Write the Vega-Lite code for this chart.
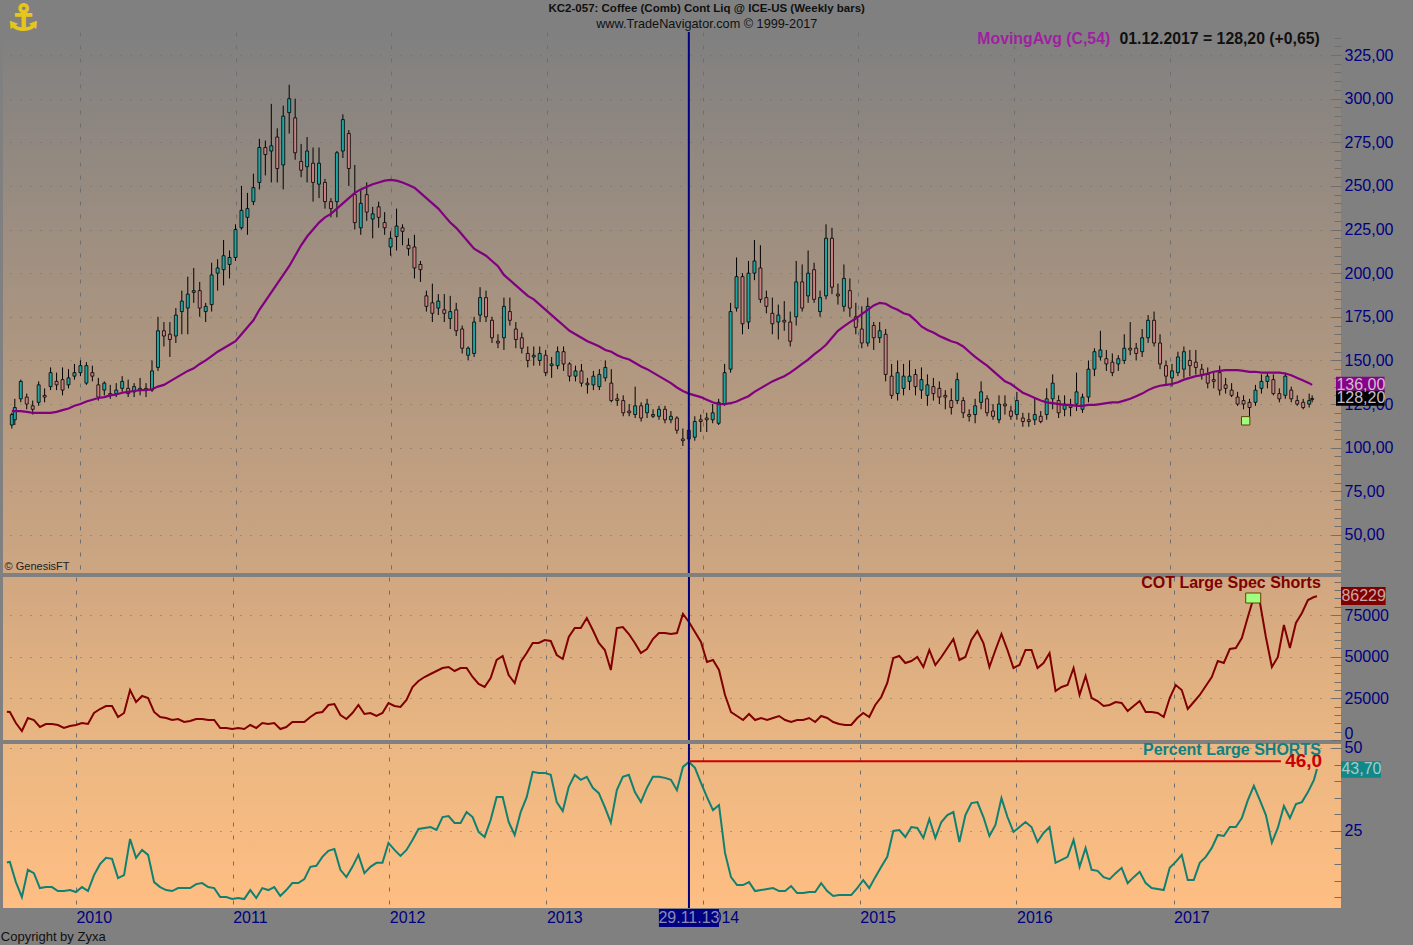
{
"$schema":"https://vega.github.io/schema/vega-lite/v6.json",
"background":"#808080",
"padding":{"left":0,"top":1,"right":27,"bottom":1},
"spacing":4,
"bounds":"flush",
"config":{"view":{"stroke":null},"font":"Liberation Sans","axis":{"domain":false,"title":null,"labelOverlap":false,"labelFont":"Liberation Sans","labelFontSize":16,"labelColor":"#000080","tickColor":"#6e6e6e"}},
"datasets":{"bars":[
{"date":"2009-07-24","open":113,"high":120,"low":111,"close":119,"ma":121,"cot":17000,"pct":15.5},
{"date":"2009-07-31","open":116,"high":128,"low":113,"close":123,"ma":121,"cot":16800,"pct":15.7},
{"date":"2009-08-14","open":128,"high":139,"low":126,"close":138,"ma":121,"cot":10200,"pct":9.6},
{"date":"2009-08-28","open":129,"high":131,"low":122,"close":125,"ma":120.5,"cot":5400,"pct":5.1},
{"date":"2009-09-11","open":124,"high":127,"low":119,"close":122,"ma":120,"cot":13200,"pct":13.3},
{"date":"2009-09-25","open":126,"high":138,"low":124,"close":136,"ma":120,"cot":12000,"pct":12.3},
{"date":"2009-10-09","open":130,"high":134,"low":126,"close":129,"ma":120,"cot":7800,"pct":7.8},
{"date":"2009-10-23","open":135,"high":146,"low":133,"close":143,"ma":120,"cot":9600,"pct":8.1},
{"date":"2009-11-06","open":138,"high":143,"low":133,"close":136,"ma":120.5,"cot":9600,"pct":8.1},
{"date":"2009-11-20","open":139,"high":146,"low":130,"close":133,"ma":121.5,"cot":9000,"pct":6.9},
{"date":"2009-12-04","open":136,"high":145,"low":134,"close":140,"ma":122.5,"cot":7200,"pct":6.9},
{"date":"2009-12-18","open":141,"high":148,"low":139,"close":143,"ma":124,"cot":8400,"pct":7.2},
{"date":"2010-01-01","open":143,"high":150,"low":141,"close":147,"ma":125,"cot":9000,"pct":6.6},
{"date":"2010-01-15","open":137,"high":149,"low":136,"close":147,"ma":126.5,"cot":10200,"pct":8.1},
{"date":"2010-01-29","open":143,"high":147,"low":138,"close":141,"ma":127.5,"cot":9600,"pct":6.9},
{"date":"2010-02-12","open":136,"high":140,"low":127,"close":129,"ma":128.5,"cot":16200,"pct":11.7},
{"date":"2010-02-26","open":133,"high":138,"low":130,"close":137,"ma":129,"cot":18600,"pct":15},
{"date":"2010-03-12","open":131,"high":136,"low":128,"close":130,"ma":130,"cot":20400,"pct":16.9},
{"date":"2010-03-26","open":131,"high":137,"low":129,"close":133,"ma":130.5,"cot":20400,"pct":16.6},
{"date":"2010-04-09","open":134,"high":141,"low":132,"close":138,"ma":131.5,"cot":13800,"pct":10.8},
{"date":"2010-04-23","open":134,"high":139,"low":129,"close":131,"ma":132,"cot":16200,"pct":11.7},
{"date":"2010-05-07","open":132,"high":137,"low":129,"close":135,"ma":132.5,"cot":30000,"pct":22.6},
{"date":"2010-05-21","open":134,"high":140,"low":130,"close":133,"ma":133,"cot":22800,"pct":16.9},
{"date":"2010-06-04","open":134,"high":137,"low":129,"close":133,"ma":133,"cot":26400,"pct":19.3},
{"date":"2010-06-18","open":133,"high":150,"low":132,"close":144,"ma":133.5,"cot":25200,"pct":17.8},
{"date":"2010-07-02","open":146,"high":175,"low":144,"close":167,"ma":135,"cot":16800,"pct":9.6},
{"date":"2010-07-16","open":167,"high":172,"low":158,"close":164,"ma":136,"cot":13800,"pct":8.1},
{"date":"2010-07-30","open":165,"high":172,"low":152,"close":162,"ma":138,"cot":13200,"pct":7.2},
{"date":"2010-08-13","open":164,"high":180,"low":160,"close":176,"ma":140,"cot":12000,"pct":6.9},
{"date":"2010-08-27","open":178,"high":190,"low":165,"close":184,"ma":142,"cot":12600,"pct":7.8},
{"date":"2010-09-10","open":180,"high":198,"low":165,"close":188,"ma":144,"cot":10800,"pct":7.8},
{"date":"2010-09-24","open":189,"high":203,"low":183,"close":190,"ma":145.5,"cot":11400,"pct":7.8},
{"date":"2010-10-08","open":190,"high":195,"low":175,"close":180,"ma":148,"cot":12600,"pct":9},
{"date":"2010-10-22","open":178,"high":183,"low":172,"close":181,"ma":150,"cot":12600,"pct":9.3},
{"date":"2010-11-05","open":182,"high":206,"low":178,"close":199,"ma":152.5,"cot":12000,"pct":8.1},
{"date":"2010-11-19","open":200,"high":208,"low":190,"close":203,"ma":155,"cot":12000,"pct":7.8},
{"date":"2010-12-03","open":202,"high":219,"low":193,"close":210,"ma":157,"cot":7200,"pct":5.1},
{"date":"2010-12-17","open":205,"high":213,"low":197,"close":209,"ma":159,"cot":7200,"pct":5.1},
{"date":"2010-12-31","open":209,"high":228,"low":207,"close":225,"ma":161,"cot":6600,"pct":4.5},
{"date":"2011-01-14","open":226,"high":250,"low":225,"close":236,"ma":165,"cot":7200,"pct":4.8},
{"date":"2011-01-28","open":232,"high":246,"low":222,"close":237,"ma":169,"cot":6600,"pct":4.5},
{"date":"2011-02-11","open":241,"high":257,"low":239,"close":249,"ma":173,"cot":9000,"pct":7.2},
{"date":"2011-02-25","open":252,"high":277,"low":248,"close":272,"ma":179,"cot":7200,"pct":4.8},
{"date":"2011-03-11","open":272,"high":276,"low":256,"close":268,"ma":184,"cot":10200,"pct":7.8},
{"date":"2011-03-25","open":270,"high":297,"low":252,"close":273,"ma":189,"cot":9600,"pct":7.2},
{"date":"2011-04-08","open":278,"high":283,"low":252,"close":260,"ma":194,"cot":10200,"pct":8.1},
{"date":"2011-04-22","open":262,"high":296,"low":248,"close":290,"ma":199,"cot":6600,"pct":5.4},
{"date":"2011-05-06","open":292,"high":308,"low":280,"close":300,"ma":204,"cot":7800,"pct":7.2},
{"date":"2011-05-20","open":289,"high":300,"low":265,"close":269,"ma":210,"cot":10800,"pct":9.3},
{"date":"2011-06-03","open":264,"high":274,"low":255,"close":259,"ma":216,"cot":10800,"pct":9.3},
{"date":"2011-06-17","open":261,"high":278,"low":252,"close":270,"ma":221,"cot":10800,"pct":10.5},
{"date":"2011-07-01","open":263,"high":272,"low":241,"close":252,"ma":225,"cot":13800,"pct":14.2},
{"date":"2011-07-15","open":251,"high":272,"low":243,"close":263,"ma":229,"cot":16200,"pct":14.5},
{"date":"2011-07-29","open":252,"high":254,"low":237,"close":241,"ma":232,"cot":16800,"pct":17.2},
{"date":"2011-08-12","open":241,"high":243,"low":232,"close":237,"ma":234,"cot":21000,"pct":19},
{"date":"2011-08-26","open":241,"high":270,"low":232,"close":269,"ma":237,"cot":21600,"pct":19.6},
{"date":"2011-09-09","open":270,"high":291,"low":266,"close":288,"ma":240,"cot":15000,"pct":13.3},
{"date":"2011-09-23","open":280,"high":282,"low":250,"close":260,"ma":243,"cot":12600,"pct":11.1},
{"date":"2011-10-07","open":245,"high":262,"low":225,"close":229,"ma":246,"cot":16200,"pct":14.2},
{"date":"2011-10-21","open":226,"high":248,"low":222,"close":240,"ma":248,"cot":21000,"pct":17.8},
{"date":"2011-11-04","open":245,"high":252,"low":230,"close":235,"ma":249.5,"cot":15600,"pct":12.3},
{"date":"2011-11-18","open":231,"high":238,"low":220,"close":234,"ma":251,"cot":16200,"pct":14.2},
{"date":"2011-12-02","open":238,"high":241,"low":226,"close":232,"ma":252,"cot":14400,"pct":15.4},
{"date":"2011-12-16","open":229,"high":235,"low":222,"close":226,"ma":253,"cot":16200,"pct":15.4},
{"date":"2011-12-30","open":215,"high":224,"low":210,"close":220,"ma":253.5,"cot":22200,"pct":21.4},
{"date":"2012-01-13","open":221,"high":237,"low":213,"close":227,"ma":253,"cot":20400,"pct":19.3},
{"date":"2012-01-27","open":226,"high":228,"low":216,"close":224,"ma":252,"cot":19800,"pct":17.5},
{"date":"2012-02-10","open":216,"high":220,"low":210,"close":214,"ma":250.5,"cot":24000,"pct":19.3},
{"date":"2012-02-24","open":215,"high":222,"low":197,"close":203,"ma":249,"cot":31800,"pct":22.3},
{"date":"2012-03-09","open":205,"high":207,"low":195,"close":202,"ma":246,"cot":35400,"pct":25.6},
{"date":"2012-03-23","open":187,"high":190,"low":178,"close":181,"ma":243,"cot":37800,"pct":25.9},
{"date":"2012-04-06","open":183,"high":194,"low":172,"close":177,"ma":240,"cot":39600,"pct":26.2},
{"date":"2012-04-20","open":180,"high":188,"low":176,"close":184,"ma":237,"cot":41400,"pct":25.3},
{"date":"2012-05-04","open":179,"high":188,"low":172,"close":177,"ma":233,"cot":43200,"pct":29.2},
{"date":"2012-05-18","open":174,"high":187,"low":168,"close":178,"ma":229,"cot":43800,"pct":29.5},
{"date":"2012-06-01","open":179,"high":183,"low":164,"close":167,"ma":226,"cot":41400,"pct":27.4},
{"date":"2012-06-15","open":168,"high":170,"low":154,"close":157,"ma":222,"cot":43200,"pct":27.4},
{"date":"2012-06-29","open":153,"high":158,"low":150,"close":157,"ma":218,"cot":43200,"pct":30.7},
{"date":"2012-07-13","open":154,"high":175,"low":152,"close":172,"ma":214,"cot":37800,"pct":29.2},
{"date":"2012-07-27","open":176,"high":192,"low":172,"close":186,"ma":212,"cot":33600,"pct":24.7},
{"date":"2012-08-10","open":186,"high":190,"low":172,"close":175,"ma":210,"cot":31800,"pct":23.2},
{"date":"2012-08-24","open":173,"high":175,"low":160,"close":163,"ma":207,"cot":37200,"pct":28.3},
{"date":"2012-09-07","open":161,"high":165,"low":157,"close":160,"ma":204,"cot":48000,"pct":35.2},
{"date":"2012-09-21","open":163,"high":186,"low":156,"close":181,"ma":199,"cot":50400,"pct":35.2},
{"date":"2012-10-05","open":178,"high":186,"low":170,"close":173,"ma":196,"cot":39000,"pct":27.7},
{"date":"2012-10-19","open":168,"high":172,"low":157,"close":162,"ma":193,"cot":34200,"pct":23.8},
{"date":"2012-11-02","open":163,"high":166,"low":154,"close":157,"ma":190,"cot":46800,"pct":30.7},
{"date":"2012-11-16","open":154,"high":158,"low":146,"close":150,"ma":187,"cot":52200,"pct":35.2},
{"date":"2012-11-30","open":152,"high":158,"low":147,"close":153,"ma":185,"cot":58200,"pct":42.8},
{"date":"2012-12-14","open":150,"high":158,"low":147,"close":154,"ma":182,"cot":58200,"pct":42.5},
{"date":"2012-12-28","open":153,"high":156,"low":141,"close":143,"ma":179,"cot":60000,"pct":42.5},
{"date":"2013-01-11","open":147,"high":152,"low":140,"close":148,"ma":176,"cot":59400,"pct":41.9},
{"date":"2013-01-25","open":147,"high":158,"low":145,"close":155,"ma":173,"cot":51000,"pct":33.7},
{"date":"2013-02-08","open":155,"high":158,"low":144,"close":148,"ma":170,"cot":48600,"pct":31},
{"date":"2013-02-22","open":148,"high":149,"low":138,"close":141,"ma":167,"cot":61800,"pct":38.3},
{"date":"2013-03-08","open":141,"high":147,"low":138,"close":144,"ma":165,"cot":67200,"pct":41.9},
{"date":"2013-03-22","open":144,"high":148,"low":135,"close":137,"ma":163,"cot":67200,"pct":40.4},
{"date":"2013-04-05","open":136,"high":140,"low":131,"close":137,"ma":161,"cot":73200,"pct":41.3},
{"date":"2013-04-19","open":136,"high":144,"low":133,"close":141,"ma":159.5,"cot":66000,"pct":38},
{"date":"2013-05-03","open":135,"high":145,"low":133,"close":142,"ma":158,"cot":58200,"pct":36.4},
{"date":"2013-05-17","open":140,"high":150,"low":138,"close":146,"ma":156,"cot":54000,"pct":32.2},
{"date":"2013-05-31","open":137,"high":145,"low":126,"close":127,"ma":155,"cot":42000,"pct":27.5},
{"date":"2013-06-14","open":128,"high":131,"low":124,"close":127,"ma":153,"cot":67200,"pct":37.3},
{"date":"2013-06-28","open":127,"high":130,"low":118,"close":120,"ma":151.5,"cot":67800,"pct":41.3},
{"date":"2013-07-12","open":121,"high":125,"low":118,"close":120,"ma":150.5,"cot":63600,"pct":41.9},
{"date":"2013-07-26","open":119,"high":135,"low":117,"close":124,"ma":148.5,"cot":58200,"pct":36.7},
{"date":"2013-08-09","open":124,"high":126,"low":115,"close":117,"ma":146.5,"cot":52200,"pct":33.7},
{"date":"2013-08-23","open":120,"high":128,"low":117,"close":125,"ma":145,"cot":54600,"pct":38},
{"date":"2013-09-06","open":118,"high":122,"low":117,"close":119,"ma":143,"cot":60600,"pct":41.3},
{"date":"2013-09-20","open":118,"high":124,"low":116,"close":122,"ma":141,"cot":64200,"pct":41.3},
{"date":"2013-10-04","open":122,"high":124,"low":114,"close":116,"ma":139,"cot":64200,"pct":41},
{"date":"2013-10-18","open":116,"high":121,"low":114,"close":118,"ma":137,"cot":63600,"pct":40.4},
{"date":"2013-11-01","open":117,"high":118,"low":108,"close":110,"ma":134.5,"cot":64200,"pct":37.3},
{"date":"2013-11-15","open":105,"high":111,"low":101,"close":104,"ma":132.5,"cot":75600,"pct":44.3},
{"date":"2013-11-29","open":105,"high":115,"low":103,"close":110,"ma":131,"cot":70800,"pct":45.8},
{"date":"2013-12-13","open":106,"high":118,"low":104,"close":115,"ma":130,"cot":64800,"pct":44},
{"date":"2013-12-27","open":116,"high":119,"low":109,"close":115,"ma":129,"cot":58800,"pct":39.5},
{"date":"2014-01-10","open":117,"high":120,"low":109,"close":116,"ma":127.5,"cot":46800,"pct":35.2},
{"date":"2014-01-24","open":116,"high":125,"low":114,"close":120,"ma":126,"cot":48000,"pct":31.3},
{"date":"2014-02-07","open":114,"high":128,"low":113,"close":126,"ma":125,"cot":42000,"pct":32.8},
{"date":"2014-02-21","open":125,"high":148,"low":124,"close":143,"ma":125,"cot":27000,"pct":18.4},
{"date":"2014-03-07","open":145,"high":183,"low":143,"close":178,"ma":125.5,"cot":16800,"pct":11.1},
{"date":"2014-03-21","open":180,"high":209,"low":178,"close":198,"ma":126.5,"cot":14400,"pct":8.7},
{"date":"2014-04-04","open":198,"high":200,"low":165,"close":171,"ma":128,"cot":12000,"pct":8.7},
{"date":"2014-04-18","open":172,"high":207,"low":168,"close":200,"ma":129.5,"cot":15600,"pct":9.6},
{"date":"2014-05-02","open":200,"high":219,"low":196,"close":207,"ma":132,"cot":12000,"pct":6.9},
{"date":"2014-05-16","open":203,"high":216,"low":183,"close":185,"ma":134,"cot":13200,"pct":7.2},
{"date":"2014-05-30","open":186,"high":190,"low":177,"close":181,"ma":136,"cot":12000,"pct":7.5},
{"date":"2014-06-13","open":177,"high":186,"low":165,"close":171,"ma":138,"cot":13200,"pct":7.8},
{"date":"2014-06-27","open":172,"high":182,"low":162,"close":176,"ma":139.5,"cot":14400,"pct":6.9},
{"date":"2014-07-11","open":173,"high":184,"low":167,"close":172,"ma":141,"cot":12000,"pct":6.9},
{"date":"2014-07-25","open":172,"high":178,"low":158,"close":161,"ma":143,"cot":10800,"pct":8.4},
{"date":"2014-08-08","open":175,"high":207,"low":170,"close":195,"ma":145.5,"cot":12000,"pct":6.3},
{"date":"2014-08-22","open":195,"high":205,"low":178,"close":180,"ma":148,"cot":12000,"pct":6.3},
{"date":"2014-09-05","open":187,"high":213,"low":183,"close":200,"ma":150.5,"cot":13200,"pct":6.6},
{"date":"2014-09-19","open":202,"high":206,"low":183,"close":185,"ma":153.5,"cot":10800,"pct":6.6},
{"date":"2014-10-03","open":178,"high":190,"low":175,"close":186,"ma":156,"cot":14400,"pct":9.3},
{"date":"2014-10-17","open":187,"high":228,"low":185,"close":220,"ma":159,"cot":13200,"pct":6.9},
{"date":"2014-10-31","open":220,"high":226,"low":188,"close":192,"ma":163,"cot":10800,"pct":5.4},
{"date":"2014-11-14","open":188,"high":194,"low":182,"close":187,"ma":167,"cot":9600,"pct":5.7},
{"date":"2014-11-28","open":181,"high":205,"low":178,"close":197,"ma":169.5,"cot":9000,"pct":5.7},
{"date":"2014-12-12","open":190,"high":197,"low":175,"close":180,"ma":172,"cot":9000,"pct":5.7},
{"date":"2014-12-26","open":175,"high":183,"low":165,"close":169,"ma":174,"cot":13200,"pct":7.8},
{"date":"2015-01-09","open":168,"high":181,"low":157,"close":160,"ma":176.5,"cot":16200,"pct":10.2},
{"date":"2015-01-23","open":160,"high":186,"low":158,"close":181,"ma":179,"cot":13800,"pct":7.8},
{"date":"2015-02-06","open":170,"high":172,"low":156,"close":163,"ma":181.5,"cot":21000,"pct":11.1},
{"date":"2015-02-20","open":163,"high":172,"low":160,"close":167,"ma":183,"cot":25800,"pct":14.2},
{"date":"2015-03-06","open":165,"high":168,"low":138,"close":142,"ma":182.5,"cot":34200,"pct":17.2},
{"date":"2015-03-20","open":141,"high":148,"low":128,"close":130,"ma":180.5,"cot":49200,"pct":25},
{"date":"2015-04-03","open":131,"high":150,"low":127,"close":143,"ma":179,"cot":50400,"pct":25.3},
{"date":"2015-04-17","open":134,"high":148,"low":130,"close":141,"ma":177,"cot":46200,"pct":23.2},
{"date":"2015-05-01","open":138,"high":150,"low":133,"close":141,"ma":176,"cot":47400,"pct":26.2},
{"date":"2015-05-15","open":142,"high":145,"low":130,"close":135,"ma":173,"cot":49800,"pct":25.9},
{"date":"2015-05-29","open":133,"high":146,"low":128,"close":139,"ma":169.5,"cot":43800,"pct":22.9},
{"date":"2015-06-12","open":130,"high":142,"low":124,"close":136,"ma":167.5,"cot":54000,"pct":28.6},
{"date":"2015-06-26","open":135,"high":140,"low":127,"close":131,"ma":166,"cot":45000,"pct":22.9},
{"date":"2015-07-10","open":134,"high":138,"low":125,"close":129,"ma":164,"cot":49800,"pct":27.7},
{"date":"2015-07-24","open":130,"high":133,"low":122,"close":129,"ma":162.5,"cot":55200,"pct":29.8},
{"date":"2015-08-07","open":127,"high":134,"low":119,"close":123,"ma":161,"cot":60600,"pct":30.7},
{"date":"2015-08-21","open":127,"high":143,"low":125,"close":139,"ma":160,"cot":48000,"pct":21.7},
{"date":"2015-09-04","open":127,"high":129,"low":117,"close":120,"ma":158,"cot":49800,"pct":29.8},
{"date":"2015-09-18","open":119,"high":122,"low":115,"close":118,"ma":155,"cot":60000,"pct":33.4},
{"date":"2015-10-02","open":119,"high":128,"low":114,"close":124,"ma":152,"cot":65400,"pct":33.7},
{"date":"2015-10-16","open":126,"high":138,"low":122,"close":132,"ma":149.5,"cot":58200,"pct":29.2},
{"date":"2015-10-30","open":128,"high":130,"low":118,"close":120,"ma":147,"cot":43800,"pct":23.5},
{"date":"2015-11-13","open":121,"high":125,"low":116,"close":118,"ma":144,"cot":54000,"pct":26.8},
{"date":"2015-11-27","open":116,"high":130,"low":114,"close":125,"ma":141,"cot":63600,"pct":34.9},
{"date":"2015-12-11","open":125,"high":130,"low":119,"close":124,"ma":138,"cot":54000,"pct":29.2},
{"date":"2015-12-25","open":121,"high":124,"low":116,"close":118,"ma":136.5,"cot":43200,"pct":24.7},
{"date":"2016-01-08","open":119,"high":132,"low":116,"close":127,"ma":134,"cot":45000,"pct":26.2},
{"date":"2016-01-22","open":117,"high":120,"low":112,"close":115,"ma":131.5,"cot":54000,"pct":27.7},
{"date":"2016-02-05","open":116,"high":120,"low":112,"close":115,"ma":130,"cot":54000,"pct":26.2},
{"date":"2016-02-19","open":116,"high":128,"low":113,"close":119,"ma":128.5,"cot":43200,"pct":21.7},
{"date":"2016-03-04","open":118,"high":121,"low":114,"close":115,"ma":127,"cot":46200,"pct":24.4},
{"date":"2016-03-18","open":119,"high":134,"low":116,"close":128,"ma":126,"cot":52200,"pct":26.2},
{"date":"2016-04-01","open":128,"high":142,"low":122,"close":137,"ma":125.5,"cot":29400,"pct":15.4},
{"date":"2016-04-15","open":127,"high":130,"low":117,"close":120,"ma":125,"cot":31800,"pct":16.3},
{"date":"2016-04-29","open":122,"high":130,"low":118,"close":125,"ma":124.5,"cot":33000,"pct":17.2},
{"date":"2016-05-13","open":124,"high":128,"low":118,"close":123,"ma":124.5,"cot":43200,"pct":22.3},
{"date":"2016-05-27","open":125,"high":143,"low":121,"close":132,"ma":124,"cot":27000,"pct":14.2},
{"date":"2016-06-10","open":122,"high":131,"low":120,"close":129,"ma":124,"cot":38400,"pct":19.9},
{"date":"2016-06-24","open":129,"high":150,"low":126,"close":145,"ma":124.5,"cot":25200,"pct":13.3},
{"date":"2016-07-08","open":145,"high":157,"low":141,"close":155,"ma":124.5,"cot":23400,"pct":13},
{"date":"2016-07-22","open":152,"high":167,"low":150,"close":156,"ma":125,"cot":20400,"pct":11.1},
{"date":"2016-08-05","open":151,"high":156,"low":144,"close":148,"ma":125.5,"cot":21000,"pct":10.5},
{"date":"2016-08-19","open":149,"high":154,"low":141,"close":143,"ma":126,"cot":22800,"pct":12.3},
{"date":"2016-09-02","open":148,"high":153,"low":144,"close":151,"ma":126,"cot":22200,"pct":13.9},
{"date":"2016-09-16","open":150,"high":165,"low":148,"close":157,"ma":127,"cot":17400,"pct":9.3},
{"date":"2016-09-30","open":157,"high":172,"low":153,"close":156,"ma":128,"cot":20400,"pct":11.1},
{"date":"2016-10-14","open":157,"high":160,"low":150,"close":154,"ma":129.5,"cot":23400,"pct":12.7},
{"date":"2016-10-28","open":155,"high":168,"low":152,"close":163,"ma":131,"cot":16800,"pct":9.3},
{"date":"2016-11-11","open":163,"high":176,"low":160,"close":173,"ma":133,"cot":16800,"pct":7.8},
{"date":"2016-11-25","open":173,"high":178,"low":158,"close":160,"ma":134.5,"cot":16200,"pct":7.5},
{"date":"2016-12-09","open":160,"high":165,"low":145,"close":148,"ma":135.5,"cot":13800,"pct":7.2},
{"date":"2016-12-23","open":147,"high":150,"low":136,"close":141,"ma":136,"cot":25200,"pct":13.9},
{"date":"2017-01-06","open":140,"high":148,"low":135,"close":144,"ma":136.5,"cot":33000,"pct":15.7},
{"date":"2017-01-20","open":143,"high":155,"low":141,"close":152,"ma":137.5,"cot":30000,"pct":17.8},
{"date":"2017-02-03","open":145,"high":158,"low":140,"close":155,"ma":139,"cot":18600,"pct":10.2},
{"date":"2017-02-17","open":150,"high":156,"low":141,"close":147,"ma":140,"cot":22800,"pct":10.2},
{"date":"2017-03-03","open":149,"high":156,"low":142,"close":146,"ma":141,"cot":27000,"pct":15.4},
{"date":"2017-03-17","open":145,"high":148,"low":139,"close":142,"ma":141.5,"cot":32400,"pct":17.2},
{"date":"2017-03-31","open":142,"high":146,"low":134,"close":137,"ma":142.5,"cot":37800,"pct":19.9},
{"date":"2017-04-14","open":139,"high":143,"low":134,"close":138,"ma":143.5,"cot":47400,"pct":23.8},
{"date":"2017-04-28","open":143,"high":147,"low":130,"close":133,"ma":144,"cot":46200,"pct":23.5},
{"date":"2017-05-12","open":136,"high":140,"low":131,"close":134,"ma":144.5,"cot":54600,"pct":26.2},
{"date":"2017-05-26","open":133,"high":137,"low":129,"close":130,"ma":144.5,"cot":55200,"pct":26.2},
{"date":"2017-06-09","open":129,"high":132,"low":124,"close":125,"ma":144.5,"cot":61200,"pct":28.9},
{"date":"2017-06-23","open":127,"high":130,"low":122,"close":125,"ma":144,"cot":73800,"pct":34.3},
{"date":"2017-07-07","open":126,"high":128,"low":117,"close":123,"ma":143.5,"cot":85800,"pct":38.6},
{"date":"2017-07-21","open":126,"high":136,"low":124,"close":133,"ma":143.5,"cot":82800,"pct":34.3},
{"date":"2017-08-04","open":134,"high":142,"low":131,"close":138,"ma":143,"cot":61800,"pct":29.8},
{"date":"2017-08-18","open":138,"high":143,"low":134,"close":141,"ma":143,"cot":43800,"pct":21.5},
{"date":"2017-09-01","open":139,"high":142,"low":130,"close":131,"ma":143,"cot":49800,"pct":26},
{"date":"2017-09-15","open":131,"high":134,"low":126,"close":128,"ma":143,"cot":69000,"pct":32.5},
{"date":"2017-09-29","open":130,"high":143,"low":128,"close":141,"ma":142.5,"cot":55200,"pct":28.9},
{"date":"2017-10-13","open":133,"high":135,"low":126,"close":128,"ma":141.5,"cot":70200,"pct":33.1},
{"date":"2017-10-27","open":127,"high":130,"low":124,"close":125,"ma":140,"cot":76200,"pct":33.7},
{"date":"2017-11-10","open":126,"high":128,"low":122,"close":123,"ma":138.5,"cot":84000,"pct":36.7},
{"date":"2017-11-24","open":125,"high":131,"low":123,"close":127,"ma":137,"cot":85800,"pct":40.4},
{"date":"2017-12-01","open":127.55,"high":130,"low":126,"close":128.2,"ma":136,"cot":86229,"pct":43.7}
]},
"vconcat":[
{"width":1338,"height":541,
"view":{"fill":{"gradient":"linear","x1":0,"y1":0,"x2":0,"y2":1,"stops":[{"offset":0,"color":"#808080"},{"offset":1,"color":"#cea681"}]}},
"data":{"name":"bars"},
"encoding":{"x":{"field":"date","type":"temporal","scale":{"domain":["2009-07-15","2018-01-26"]},"axis":{"values":["2010-01-01","2011-01-01","2012-01-01","2013-01-01","2014-01-01","2015-01-01","2016-01-01","2017-01-01"],"labels":false,"ticks":false,"grid":true,"gridColor":"#6e6e6e","gridDash":[4,9]}}},
"layer":[
{"mark":{"type":"rule","color":"#000000","strokeWidth":1},"encoding":{"y":{"field":"low","type":"quantitative","scale":{"domain":[28.2,338.2],"nice":false,"zero":false},"axis":{"orient":"right","tickCount":200,"values":[30,35,40,45,50,55,60,65,70,75,80,85,90,95,100,105,110,115,120,125,130,135,140,145,150,155,160,165,170,175,180,185,190,195,200,205,210,215,220,225,230,235,240,245,250,255,260,265,270,275,280,285,290,295,300,305,310,315,320,325,330,335],"labelExpr":"datum.value % 25 === 0 ? replace(format(datum.value,'.2f'),'.',',') : ''","labelPadding":13,"tickSize":{"condition":{"test":"datum.value % 25 === 0","value":-10},"value":-7},"grid":true,"gridColor":"#6e6e6e","gridDash":[1,9],"gridOpacity":{"condition":{"test":"datum.value % 25 === 0","value":1},"value":0}}},"y2":{"field":"high"}}},
{"mark":{"type":"bar","size":3,"stroke":"#000000","strokeWidth":0.8},"encoding":{"y":{"field":"open","type":"quantitative"},"y2":{"field":"close"},"color":{"condition":{"test":"datum.close >= datum.open","value":"#20a5a5"},"value":"#c88080"}}},
{"mark":{"type":"line","color":"#800080","strokeWidth":2.2},"encoding":{"y":{"field":"ma","type":"quantitative"}}},
{"data":{"values":[{"date":"2013-11-29"}]},"mark":{"type":"rule","color":"#000080","strokeWidth":2}},
{"data":{"values":[{"date":"2017-06-28","price":115.4}]},"mark":{"type":"point","shape":"square","filled":true,"size":70,"opacity":1,"color":"#a0ff80","stroke":"#604000","strokeWidth":1},"encoding":{"y":{"field":"price","type":"quantitative"}}},
{"data":{"values":[{"date":"2018-01-26","end":"2018-05-20","top":140.6,"bottom":132.6}]},"mark":{"type":"rect","color":"#8b008b"},"encoding":{"x":{"field":"date","type":"temporal"},"x2":{"field":"end"},"y":{"field":"top","type":"quantitative"},"y2":{"field":"bottom"}}},
{"data":{"values":[{"date":"2018-01-26","end":"2018-05-20","top":132.6,"bottom":124}]},"mark":{"type":"rect","color":"#000000"},"encoding":{"x":{"field":"date","type":"temporal"},"x2":{"field":"end"},"y":{"field":"top","type":"quantitative"},"y2":{"field":"bottom"}}},
{"data":{"values":[{"date":"2018-01-27","price":136,"label":"136,00"},{"date":"2018-01-27","price":128.2,"label":"128,20"}]},"mark":{"type":"text","align":"left","baseline":"middle","fontSize":16,"color":"#c8c0c8"},"encoding":{"y":{"field":"price","type":"quantitative"},"text":{"field":"label"}}},
{"data":{"values":[{"date":"2014-01-10","price":351.3,"label":"KC2-057:  Coffee (Comb) Cont Liq @ ICE-US  (Weekly bars)"}]},"mark":{"type":"text","fontSize":11.5,"fontWeight":"bold","color":"#101010","baseline":"middle"},"encoding":{"y":{"field":"price","type":"quantitative"},"text":{"field":"label"}}},
{"data":{"values":[{"date":"2014-01-10","price":342.8,"label":"www.TradeNavigator.com © 1999-2017"}]},"mark":{"type":"text","fontSize":12.7,"color":"#101010","baseline":"middle"},"encoding":{"y":{"field":"price","type":"quantitative"},"text":{"field":"label"}}},
{"data":{"values":[{"date":"2016-08-14","price":334.2,"label":"MovingAvg (C,54)"}]},"mark":{"type":"text","align":"right","fontSize":15.8,"fontWeight":"bold","color":"#a01fa0","baseline":"middle"},"encoding":{"y":{"field":"price","type":"quantitative"},"text":{"field":"label"}}},
{"data":{"values":[{"date":"2017-12-19","price":334.2,"label":"01.12.2017 = 128,20 (+0,65)"}]},"mark":{"type":"text","align":"right","fontSize":15.8,"fontWeight":"bold","color":"#101010","baseline":"middle"},"encoding":{"y":{"field":"price","type":"quantitative"},"text":{"field":"label"}}},
{"data":{"values":[{"date":"2009-07-07","price":31.8,"label":"© GenesisFT"}]},"mark":{"type":"text","align":"left","fontSize":11,"color":"#202020","baseline":"middle"},"encoding":{"y":{"field":"price","type":"quantitative"},"text":{"field":"label"}}},
{"data":{"values":[{"date":"2009-08-20","price":345.6,"label":"⚓"}]},"mark":{"type":"text","font":"DejaVu Sans","fontSize":36,"color":"#e6c619","stroke":"#e6c619","strokeWidth":1.5,"baseline":"middle"},"encoding":{"y":{"field":"price","type":"quantitative"},"text":{"field":"label"}}}
]},
{"width":1338,"height":163,
"view":{"fill":{"gradient":"linear","x1":0,"y1":0,"x2":0,"y2":1,"stops":[{"offset":0,"color":"#d1a781"},{"offset":1,"color":"#e9b682"}]}},
"data":{"name":"bars"},
"encoding":{"x":{"field":"date","type":"temporal","scale":{"domain":["2009-07-15","2018-01-26"]},"axis":{"values":["2010-01-01","2011-01-01","2012-01-01","2013-01-01","2014-01-01","2015-01-01","2016-01-01","2017-01-01"],"labels":false,"ticks":false,"grid":true,"gridColor":"#6e6e6e","gridDash":[4,9]}}},
"layer":[
{"mark":{"type":"line","color":"#800000","strokeWidth":2},"encoding":{"y":{"field":"cot","type":"quantitative","scale":{"domain":[0,97800],"nice":false},"axis":{"orient":"right","tickCount":200,"values":[0,5000,10000,15000,20000,25000,30000,35000,40000,45000,50000,55000,60000,65000,70000,75000,80000,85000,90000,95000],"labelExpr":"datum.value % 25000 === 0 ? datum.value + '' : ''","labelPadding":13,"labelOffset":{"condition":{"test":"datum.value === 0","value":-7},"value":0},"tickSize":{"condition":{"test":"datum.value % 25000 === 0","value":-10},"value":-7},"grid":true,"gridColor":"#6e6e6e","gridDash":[1,9],"gridOpacity":{"condition":{"test":"datum.value % 25000 === 0 && datum.value > 0","value":1},"value":0}}}}},
{"data":{"values":[{"date":"2013-11-29"}]},"mark":{"type":"rule","color":"#000080","strokeWidth":2}},
{"data":{"values":[{"date":"2017-06-18","end":"2017-07-23","top":88200,"bottom":82200}]},"mark":{"type":"rect","color":"#a0ff80","stroke":"#604000","strokeWidth":1},"encoding":{"x":{"field":"date","type":"temporal"},"x2":{"field":"end"},"y":{"field":"top","type":"quantitative"},"y2":{"field":"bottom"}}},
{"mark":{"type":"line","color":"#800000","strokeWidth":2},"transform":[{"filter":"datum.date > '2017-06-01' && datum.date < '2017-08-10'"}],"encoding":{"y":{"field":"cot","type":"quantitative"}}},
{"data":{"values":[{"date":"2018-01-26","end":"2018-05-10","top":91800,"bottom":81000}]},"mark":{"type":"rect","color":"#800000"},"encoding":{"x":{"field":"date","type":"temporal"},"x2":{"field":"end"},"y":{"field":"top","type":"quantitative"},"y2":{"field":"bottom"}}},
{"data":{"values":[{"date":"2018-01-27","value":86229,"label":"86229"}]},"mark":{"type":"text","align":"left","baseline":"middle","fontSize":16,"color":"#c8a8a8"},"encoding":{"y":{"field":"value","type":"quantitative"},"text":{"field":"label"}}},
{"data":{"values":[{"date":"2017-12-10","value":94200,"label":"COT Large Spec Shorts"}]},"mark":{"type":"text","align":"right","baseline":"middle","fontSize":16,"fontWeight":"bold","color":"#800000"},"encoding":{"y":{"field":"value","type":"quantitative"},"text":{"field":"label"}}}
]},
{"width":1338,"height":164,
"view":{"fill":{"gradient":"linear","x1":0,"y1":0,"x2":0,"y2":1,"stops":[{"offset":0,"color":"#ebb782"},{"offset":1,"color":"#ffbe82"}]}},
"data":{"name":"bars"},
"encoding":{"x":{"field":"date","type":"temporal","scale":{"domain":["2009-07-15","2018-01-26"]},"axis":{"values":["2010-01-01","2011-01-01","2012-01-01","2013-01-01","2014-01-01","2015-01-01","2016-01-01","2017-01-01"],"format":"%Y","labelAlign":"left","labelPadding":1,"ticks":false,"grid":true,"gridColor":"#6e6e6e","gridDash":[4,9]}}},
"layer":[
{"mark":{"type":"line","color":"#108070","strokeWidth":2},"encoding":{"y":{"field":"pct","type":"quantitative","scale":{"domain":[1.8,51.2],"nice":false,"zero":false},"axis":{"orient":"right","tickCount":200,"values":[5,10,15,20,25,30,35,40,45,50],"labelExpr":"datum.value % 25 === 0 ? datum.value + '' : ''","labelPadding":13,"tickSize":{"condition":{"test":"datum.value % 25 === 0","value":-10},"value":-7},"grid":true,"gridColor":"#6e6e6e","gridDash":[1,9],"gridOpacity":{"condition":{"test":"datum.value % 25 === 0","value":1},"value":0}}}}},
{"data":{"values":[{"date":"2013-11-29"}]},"mark":{"type":"rule","color":"#000080","strokeWidth":2}},
{"data":{"values":[{"date":"2013-11-29","end":"2017-09-08","value":46}]},"mark":{"type":"rule","color":"#c80000","strokeWidth":2},"encoding":{"x":{"field":"date","type":"temporal"},"x2":{"field":"end"},"y":{"field":"value","type":"quantitative"}}},
{"data":{"values":[{"date":"2017-09-18","value":46,"label":"46,0"}]},"mark":{"type":"text","align":"left","baseline":"middle","fontSize":19,"fontWeight":"bold","color":"#c80000"},"encoding":{"y":{"field":"value","type":"quantitative"},"text":{"field":"label"}}},
{"data":{"values":[{"date":"2017-12-10","value":49.4,"label":"Percent Large SHORTS"}]},"mark":{"type":"text","align":"right","baseline":"middle","fontSize":16,"fontWeight":"bold","color":"#108080"},"encoding":{"y":{"field":"value","type":"quantitative"},"text":{"field":"label"}}},
{"data":{"values":[{"date":"2018-01-26","end":"2018-04-29","top":46,"bottom":41}]},"mark":{"type":"rect","color":"#108888"},"encoding":{"x":{"field":"date","type":"temporal"},"x2":{"field":"end"},"y":{"field":"top","type":"quantitative"},"y2":{"field":"bottom"}}},
{"data":{"values":[{"date":"2018-01-27","value":43.7,"label":"43,70"}]},"mark":{"type":"text","align":"left","baseline":"middle","fontSize":16,"color":"#a8c8c8"},"encoding":{"y":{"field":"value","type":"quantitative"},"text":{"field":"label"}}},
{"data":{"values":[{"date":"2013-09-20","end":"2014-02-07","top":1.5,"bottom":-3.9}]},"mark":{"type":"rect","color":"#000080"},"encoding":{"x":{"field":"date","type":"temporal"},"x2":{"field":"end"},"y":{"field":"top","type":"quantitative"},"y2":{"field":"bottom"}}},
{"data":{"values":[{"date":"2013-11-29","value":-1.2,"label":"29.11.13"}]},"mark":{"type":"text","baseline":"middle","fontSize":16,"color":"#8a8ab8"},"encoding":{"y":{"field":"value","type":"quantitative"},"text":{"field":"label"}}},
{"data":{"values":[{"date":"2009-07-10","value":-6.9,"label":"Copyright by Zyxa"}]},"mark":{"type":"text","align":"left","baseline":"middle","fontSize":13,"color":"#101010"},"encoding":{"y":{"field":"value","type":"quantitative"},"text":{"field":"label"}}}
]}
]}
